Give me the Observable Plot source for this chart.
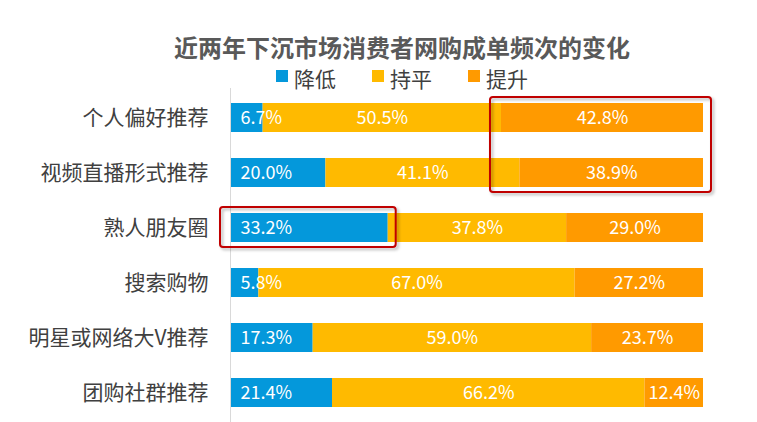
<!DOCTYPE html>
<html><head><meta charset="utf-8">
<script src="https://cdn.jsdelivr.net/npm/d3@7"></script>
<script src="https://cdn.jsdelivr.net/npm/@observablehq/plot@0.6"></script>
<style>
html,body{margin:0;padding:0;background:#fff;overflow:hidden;}
body{width:757px;height:422px;position:relative;font-family:"Noto Sans CJK SC","Microsoft YaHei",sans-serif;}
#title{position:absolute;left:47px;width:710px;top:34px;height:25px;line-height:25px;text-align:center;font-size:24px;font-weight:bold;color:#595959;white-space:nowrap;}
#legend{position:absolute;left:47px;width:710px;top:67px;height:22px;display:flex;justify-content:center;align-items:center;font-size:21px;line-height:22px;color:#404040;}
.item{display:flex;align-items:center;margin:0 18px;}
.sw{width:12px;height:12px;margin-right:6px;position:relative;top:-2px;}
#chart{position:absolute;left:0;top:88px;}
</style>
</head><body>
<div id="title"></div>
<div id="legend"></div>
<div id="chart"></div>
<script>
const titleText = "近两年下沉市场消费者网购成单频次的变化";
const categories = ["个人偏好推荐","视频直播形式推荐","熟人朋友圈","搜索购物","明星或网络大V推荐","团购社群推荐"];
const seriesNames = ["降低","持平","提升"];
const decrease = [6.7,20.0,33.2,5.8,17.3,21.4];
const flat     = [50.5,41.1,37.8,67.0,59.0,66.2];
const increase = [42.8,38.9,29.0,27.2,23.7,12.4];
const colors = ["#0498DB","#FFBA00","#FF9A00"];
const highlights = [
  {rows:["个人偏好推荐","视频直播形式推荐"], series:"提升"},
  {rows:["熟人朋友圈"], series:"降低"}
];

const values = [decrease, flat, increase];
const data = [];
seriesNames.forEach((s, si) => categories.forEach((c, ci) => data.push({category:c, series:s, value:values[si][ci]})));
const fmt = d => d.value.toFixed(1) + "%";

d3.select("#title").text(titleText);
const items = d3.select("#legend").selectAll(".item").data(seriesNames).join("div").attr("class","item");
items.append("div").attr("class","sw").style("background",(d,i)=>colors[i]);
items.append("span").text(d=>d);

const plot = Plot.plot({
  width:757, height:334,
  marginLeft:231, marginRight:54, marginTop:0, marginBottom:0,
  style:{fontFamily:'"Noto Sans CJK SC","Microsoft YaHei",sans-serif', fontSize:"21px", color:"#404040", background:"transparent"},
  x:{domain:[0,100], axis:null},
  y:{domain:categories, paddingInner:0.477, paddingOuter:0.253, align:0.5, label:null, tickSize:0, tickPadding:23},
  color:{domain:seriesNames, range:colors},
  marks:[
    Plot.ruleX([0], {stroke:"#d9d9d9", dx:-1}),
    Plot.barX(data, Plot.stackX({x:"value", y:"category", fill:"series", order:seriesNames})),
    Plot.text(data.filter(d => d.series === "降低"), {x:() => 0, y:"category", text:fmt, dx:9, textAnchor:"start", fill:"white", fontSize:18}),
    Plot.textX(data, Plot.stackX({x:"value", y:"category", z:"series", order:seriesNames,
      text:d => d.series === "降低" ? "" : fmt(d), fill:"white", fontSize:18}))
  ]
});
document.getElementById("chart").appendChild(plot);

// highlight boxes placed via the plot's own scales
const xs = plot.scale("x"), ys = plot.scale("y");
const pad = {l:11, r:8, t:6, b:5};
const svg = d3.select(plot);
const f = svg.append("defs").append("filter").attr("id","shd").attr("x","-10%").attr("y","-10%").attr("width","130%").attr("height","130%");
f.append("feDropShadow").attr("dx",2).attr("dy",2).attr("stdDeviation",1.5).attr("flood-color","#000").attr("flood-opacity",0.3);
highlights.forEach(h => {
  const si = seriesNames.indexOf(h.series);
  const idx = h.rows.map(r => categories.indexOf(r));
  const starts = idx.map(i => d3.sum(values.slice(0, si), v => v[i]));
  const ends = idx.map((i, k) => starts[k] + values[si][i]);
  const x1 = xs.apply(d3.min(starts)) - pad.l;
  const x2 = xs.apply(d3.max(ends)) + pad.r;
  const y1 = d3.min(h.rows, r => ys.apply(r)) - pad.t;
  const y2 = d3.max(h.rows, r => ys.apply(r)) + ys.bandwidth + pad.b;
  svg.append("rect").attr("x",x1).attr("y",y1).attr("width",x2-x1).attr("height",y2-y1)
    .attr("rx",3).attr("fill","none").attr("stroke","#C00000").attr("stroke-width",2).attr("filter","url(#shd)");
});
</script>
</body></html>
